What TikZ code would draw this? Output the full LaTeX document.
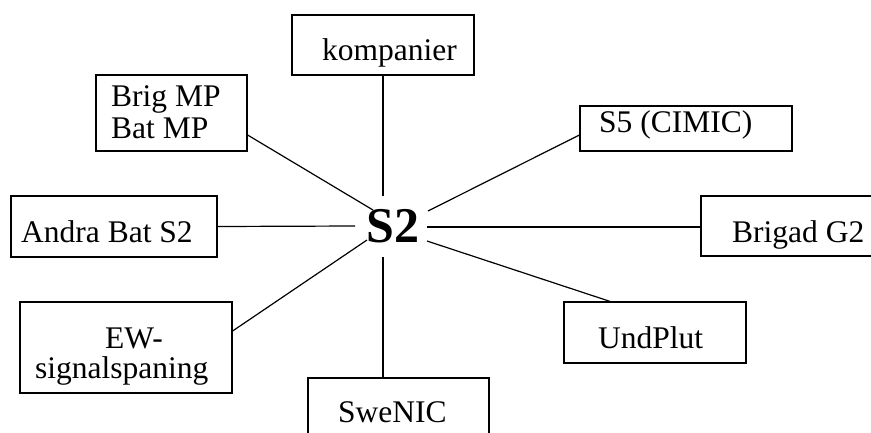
\documentclass[tikz,border=0pt]{standalone}
\usepackage{fontspec}
\setmainfont{Liberation Serif}
\usetikzlibrary{calc}
\begin{document}
\begin{tikzpicture}[x=1pt,y=-1pt,
  box/.style={draw,line width=1.2pt,rectangle,inner sep=0pt},
  lbl/.style={anchor=base west,inner sep=0pt,font=\fontsize{31.5}{32}\selectfont},
  link/.style={line width=1.2pt}]
\useasboundingbox (0,0) rectangle (871,432);
\clip (0,0) rectangle (871,432);
% boxes around the hub
\node[box,minimum width=182pt,minimum height=60pt] (komp) at (383,45) {};
\node[box,minimum width=151pt,minimum height=76pt] (brig) at (171.5,113) {};
\node[box,minimum width=212pt,minimum height=45pt] (s5) at (686,128.5) {};
\node[box,minimum width=206pt,minimum height=61pt] (andra) at (114,226.5) {};
\node[box,minimum width=200pt,minimum height=60pt] (brigad) at (801,226) {};
\node[box,minimum width=182pt,minimum height=61pt] (und) at (655,332.5) {};
\node[box,minimum width=212pt,minimum height=91pt] (ew) at (126,347.5) {};
\node[box,minimum width=181pt,minimum height=72pt] (swe) at (398.5,414) {};
% box texts
\node[lbl] (kompT) at (322,60) {kompanier};
\node[lbl] (brigT1) at (111,106) {Brig MP};
\node[lbl] (brigT2) at (111,138) {Bat MP};
\node[lbl] (s5T) at (599,132) {S5 (CIMIC)};
\node[lbl] (andraT) at (21,242) {Andra Bat S2};
\node[lbl] (brigadT) at (732,242) {Brigad G2};
\node[lbl] (undT) at (598,348) {UndPlut};
\node[lbl] (ewT1) at (105,348) {EW-};
\node[lbl] (ewT2) at (35,378) {signalspaning};
\node[lbl] (sweT) at (338,422) {SweNIC};
% hub
\node[anchor=base west,inner sep=0pt,font=\fontsize{50}{50}\selectfont\bfseries] (hub) at (366,242) {S2};
% free ends of the spokes around the hub
\coordinate (hN) at (383,196);
\coordinate (hNW) at (373,210);
\coordinate (hNE) at (428,211);
\coordinate (hW) at (355,226);
\coordinate (hE) at (427,227);
\coordinate (hSE) at (427,241);
\coordinate (hSW) at (367,240);
\coordinate (hS) at (383,257);
% spokes
\draw[link] (komp.south) -- (hN);
\draw[link] ($(brig.east)+(0,22)$) -- (hNW);
\draw[link] ($(s5.west)+(0,6.5)$) -- (hNE);
\draw[link] (andra.east) -- (hW);
\draw[link] ($(brigad.west)+(0,1)$) -- (hE);
\draw[link] ($(und.north)+(-45,0)$) -- (hSE);
\draw[link] ($(ew.east)+(0,-16.5)$) -- (hSW);
\draw[link] ($(swe.north)+(-15.5,0)$) -- (hS);
\end{tikzpicture}
\end{document}
